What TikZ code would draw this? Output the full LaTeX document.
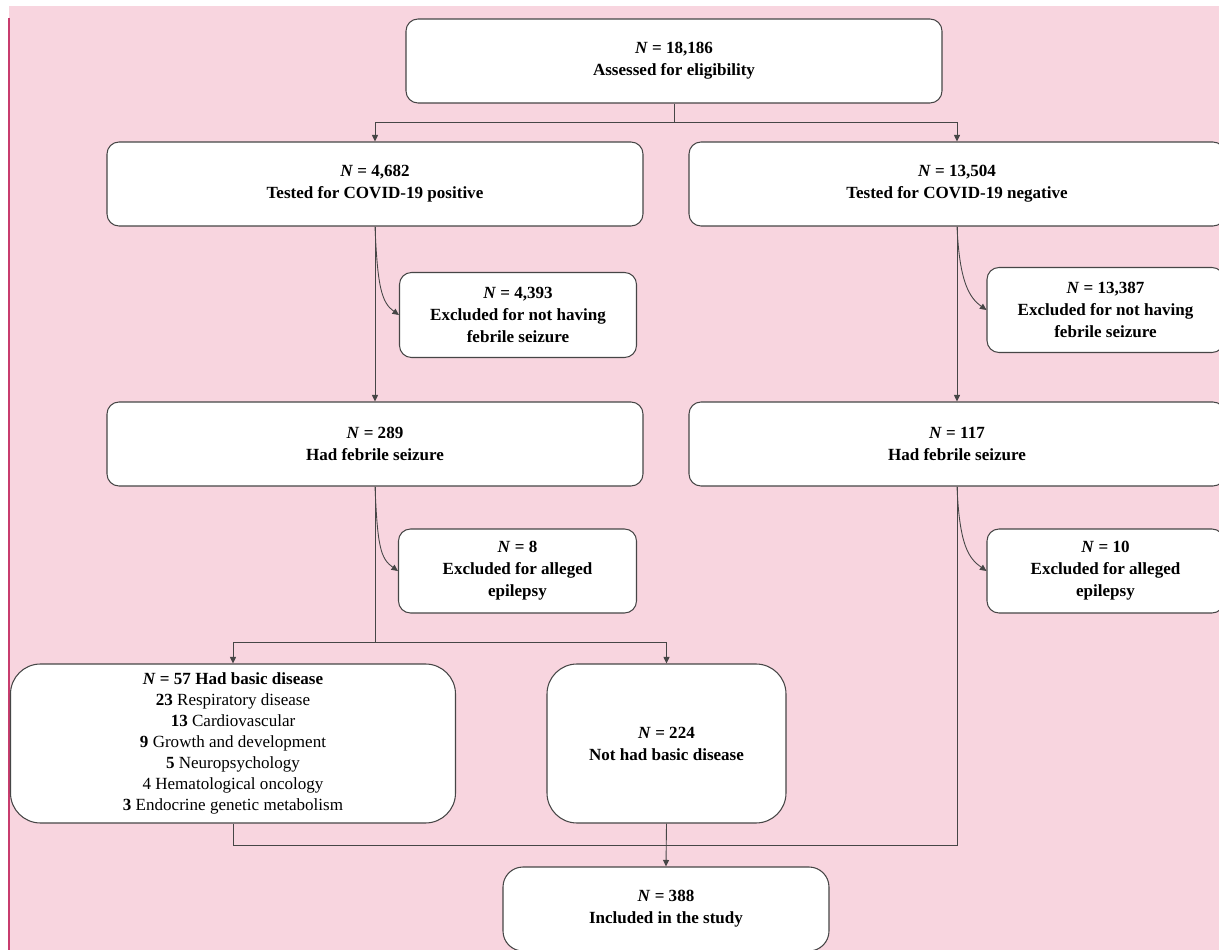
\documentclass[tikz,border=0pt]{standalone}
\usepackage{fontspec}
\setmainfont{Liberation Serif}
\usepackage{tikz}
\usetikzlibrary{shapes, arrows.meta, positioning}
\definecolor{bgpink}{RGB}{248,213,223}
\definecolor{edgepink}{RGB}{200,60,110}
\definecolor{linegray}{RGB}{70,70,70}
\tikzstyle{block} = [draw=linegray, fill=white, rectangle, rounded corners=0.24cm, line width=0.6pt, align=center, font=\fontsize{9.7}{12.5}\selectfont\bfseries]
\tikzstyle{bigblock} = [block, rounded corners=0.6cm, font=\fontsize{9.7}{12}\selectfont]
\tikzstyle{link} = [draw=linegray, line width=0.5pt]
\newcommand{\nn}{\textit{N}}

\begin{document}
\begin{tikzpicture}[auto,>={Triangle[length=0.13cm,width=0.12cm]}]
  \clip (0,0) rectangle (24.38,-19);
  \fill[white] (0,0) rectangle (24.38,-19);
  \fill[bgpink] (0.18,-0.12) rectangle (24.38,-19);
  \draw[edgepink, line width=0.6pt] (0.18,-0.36) -- (0.18,-19);
  % first level
  \node[block, minimum width=10.72cm, minimum height=1.68cm] (assessed) at (13.48,-1.22) {\nn{} = 18,186\\Assessed for eligibility};
  \node[block, minimum width=10.72cm, minimum height=1.68cm] (positive) at (7.5,-3.68) {\nn{} = 4,682\\Tested for COVID-19 positive};
  \node[block, minimum width=10.72cm, minimum height=1.68cm] (negative) at (19.14,-3.68) {\nn{} = 13,504\\Tested for COVID-19 negative};
  \node[block, minimum width=4.74cm, minimum height=1.7cm] (exclpos) at (10.36,-6.3) {\nn{} = 4,393\\Excluded for not having\\febrile seizure};
  \node[block, minimum width=4.74cm, minimum height=1.7cm] (exclneg) at (22.11,-6.2) {\nn{} = 13,387\\Excluded for not having\\febrile seizure};
  % febrile seizure
  \node[block, minimum width=10.72cm, minimum height=1.68cm] (seizpos) at (7.5,-8.88) {\nn{} = 289\\Had febrile seizure};
  \node[block, minimum width=10.72cm, minimum height=1.68cm] (seizneg) at (19.14,-8.88) {\nn{} = 117\\Had febrile seizure};
  \node[block, minimum width=4.76cm, minimum height=1.68cm] (epipos) at (10.35,-11.42) {\nn{} = 8\\Excluded for alleged\\epilepsy};
  \node[block, minimum width=4.74cm, minimum height=1.68cm] (epineg) at (22.11,-11.42) {\nn{} = 10\\Excluded for alleged\\epilepsy};
  % basic disease
  \node[bigblock, minimum width=8.9cm, minimum height=3.18cm] (basic) at (4.66,-14.87) {\textbf{\nn{} = 57 Had basic disease}\\\textbf{23} Respiratory disease\\\textbf{13} Cardiovascular\\\textbf{9} Growth and development\\\textbf{5} Neuropsychology\\4 Hematological oncology\\\textbf{3} Endocrine genetic metabolism};
  \node[bigblock, minimum width=4.78cm, minimum height=3.18cm, font=\fontsize{9.7}{12.5}\selectfont\bfseries] (nobasic) at (13.33,-14.87) {\nn{} = 224\\Not had basic disease};
  \node[block, rounded corners=0.4cm, minimum width=6.52cm, minimum height=1.68cm] (included) at (13.32,-18.18) {\nn{} = 388\\Included in the study};
  % connectors
  \coordinate (split1) at (assessed.south |- 0,-2.44);
  \coordinate (split2) at (seizpos.south |- 0,-12.84);
  \coordinate (join) at (seizneg.south |- 0,-16.9);
  \draw[link] (assessed.south) -- (split1);
  \draw[link, ->] (split1) -| (positive.north);
  \draw[link, ->] (split1) -| (negative.north);
  \draw[link, ->] (positive.south) -- (seizpos.north);
  \draw[link, ->] (negative.south) -- (seizneg.north);
  \draw[link, ->] (positive.south) .. controls +(0.05,-1.2) and +(-0.35,0.25) .. (exclpos.west);
  \draw[link, ->] (negative.south) .. controls +(0.05,-1.1) and +(-0.35,0.25) .. (exclneg.west);
  \draw[link, ->] (seizpos.south) .. controls +(0.05,-1.2) and +(-0.35,0.25) .. (epipos.west);
  \draw[link, ->] (seizneg.south) .. controls +(0.05,-1.2) and +(-0.35,0.25) .. (epineg.west);
  \draw[link] (seizpos.south) -- (split2);
  \draw[link, ->] (split2) -| (basic.north);
  \draw[link, ->] (split2) -| (nobasic.north);
  \draw[link] (seizneg.south) -- (join) -| (basic.south);
  \draw[link, ->] (nobasic.south) -- (included.north);
\end{tikzpicture}
\end{document}
